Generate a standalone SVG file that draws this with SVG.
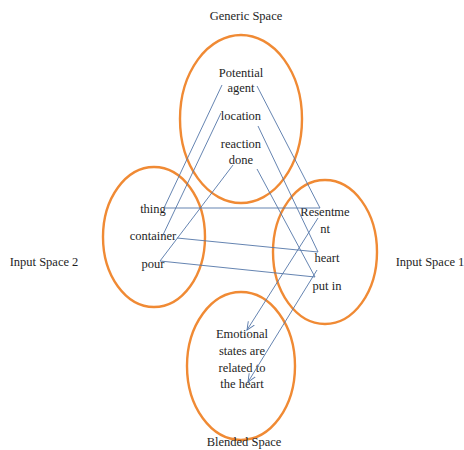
<svg xmlns="http://www.w3.org/2000/svg" width="464" height="450" viewBox="0 0 464 450">
<style>
text{font-family:"Liberation Serif","Times New Roman",serif;font-size:12.5px;fill:#1e1e1e;text-anchor:middle}
.sp{fill:none;stroke:#f08a34;stroke-width:2.4}
.ln{fill:none;stroke:#5476a8;stroke-width:0.9}
</style>
<defs>
<marker id="ah" viewBox="0 0 10 10" refX="9" refY="5" markerWidth="9" markerHeight="9" markerUnits="userSpaceOnUse" orient="auto">
<path d="M0,1 L9,5 L0,9" fill="none" stroke="#5476a8" stroke-width="1"/>
</marker>
</defs>
<rect width="464" height="450" fill="#fff"/>
<g id="generic">
<ellipse class="sp" cx="241" cy="119" rx="61" ry="84"/>
<text x="246" y="20">Generic Space</text>
<text x="241" y="77">Potential</text>
<text x="241" y="92">agent</text>
<text x="241" y="120">location</text>
<text x="241" y="148">reaction</text>
<text x="241" y="164">done</text>
</g>
<g id="input2">
<ellipse class="sp" cx="154" cy="237" rx="51" ry="70"/>
<text x="44" y="266">Input Space 2</text>
<text x="153" y="213">thing</text>
<text x="153" y="240">container</text>
<text x="153" y="268">pour</text>
</g>
<g id="input1">
<ellipse class="sp" cx="325" cy="252" rx="52" ry="72"/>
<text x="430" y="266">Input Space 1</text>
<text x="325" y="216">Resentme</text>
<text x="325" y="233">nt</text>
<text x="327" y="262">heart</text>
<text x="327" y="290">put in</text>
</g>
<g id="blended">
<ellipse class="sp" cx="241" cy="366" rx="54" ry="74"/>
<text x="244" y="446">Blended Space</text>
<text x="242" y="338">Emotional</text>
<text x="242" y="355">states are</text>
<text x="242" y="372">related to</text>
<text x="242" y="388">the heart</text>
</g>
<g id="connectors">
<path class="ln" d="M222,85 L164,208 L320,208 L257,86"/>
<path class="ln" d="M221,113 L162,237"/>
<path class="ln" d="M177,238 L318,252 L258,126"/>
<path class="ln" d="M233,165 L160,261 L315,277 L257,169"/>
<path class="ln" d="M318,218 L247,330" marker-end="url(#ah)"/>
<path class="ln" d="M317,270 L248,382" marker-end="url(#ah)"/>
</g>
</svg>
